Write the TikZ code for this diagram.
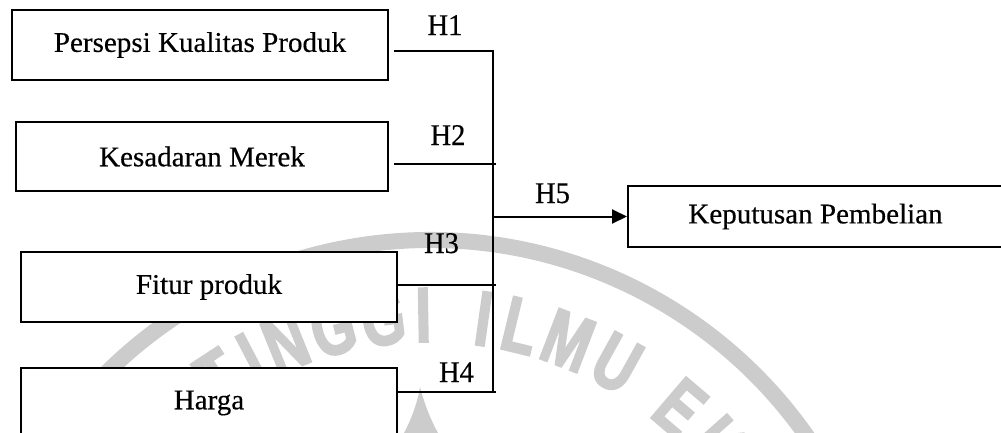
\documentclass[tikz,border=0pt]{standalone}
\usepackage{fontspec}
\setmainfont{Liberation Serif}[FakeStretch=1.02,FakeBold=0.4]
\newfontfamily\labfont{Liberation Serif}[FakeStretch=0.95,FakeBold=0.4]
\newfontfamily\wmfont{Liberation Sans Bold}[FakeStretch=0.72,FakeBold=2.5]
\usetikzlibrary{arrows.meta,calc}
\begin{document}
\begin{tikzpicture}[x=1pt,y=-1pt,
  box/.style={draw, line width=2pt, fill=white, inner sep=0pt, font=\fontsize{28.5}{32}\selectfont},
  hlab/.style={anchor=base, inner sep=0pt, font=\labfont\fontsize{30}{34}\selectfont},
  conn/.style={line width=2pt},
  wm/.style={draw=black!20, line width=16pt},
  wmletter/.style={text=black!20, inner sep=0pt, font=\wmfont\fontsize{78}{78}\selectfont}]
\useasboundingbox (0,0) rectangle (1001,432);
% watermark
\coordinate (wc) at (430,700);
\draw[wm] ($(wc)+(-146:460)$) arc[start angle=-146, end angle=-30, radius=460];
\foreach \a/\t [count=\i] in {-123.2/T,-117.6/I,-112/N,-104.6/G,-97/G,-91/I,-82/I,-76.4/L,-69/M,-61/U,-49.5/E,-41.6/K}
  \node[wmletter, rotate={0-(\a)-90}] (wm\i) at ($(wc)+(\a:385)$) {\t};
\fill[black!20] (400,440) .. controls (412,420) and (418,400) .. (420,387) .. controls (424,402) and (430,420) .. (442,440) -- cycle;
% boxes
\node[box, minimum width=376pt, minimum height=70pt] (b1) at (200,45) {Persepsi Kualitas Produk};
\node[box, minimum width=372pt, minimum height=69pt] (b2) at (202,156.5) {Kesadaran Merek};
\node[box, minimum width=376pt, minimum height=70pt] (b3) at (209,287) {Fitur produk};
\node[box, minimum width=376pt, minimum height=70pt] (b4) at (209,403) {Harga};
\node[box, minimum width=375pt, minimum height=61pt] (b5) at (815.5,216.5) {Keputusan Pembelian};
% junction points
\coordinate (j1) at (493,51);
\coordinate (j2) at (496,164);
\coordinate (j3) at (496,285);
\coordinate (j4) at (496,392);
\coordinate (jb) at (493,392);
\coordinate (j5) at (493,216.5);
% connectors
\draw[conn] ($(b1.east |- j1)+(5,0)$) -- (j1) -- (jb);
\draw[conn] ($(b2.east |- j2)+(5,0)$) -- (j2);
\draw[conn] (b3.east |- j3) -- (j3);
\draw[conn] (b4.east |- j4) -- (j4);
\draw[conn, -{Triangle[length=15pt,width=14pt]}] (j5) -- (b5.west);
% labels
\node[hlab] (l1) at (445,35) {H1};
\node[hlab] (l2) at (448,145) {H2};
\node[hlab] (l3) at (441.5,253) {H3};
\node[hlab] (l4) at (456.5,382) {H4};
\node[hlab] (l5) at (552.5,203) {H5};
\end{tikzpicture}
\end{document}
